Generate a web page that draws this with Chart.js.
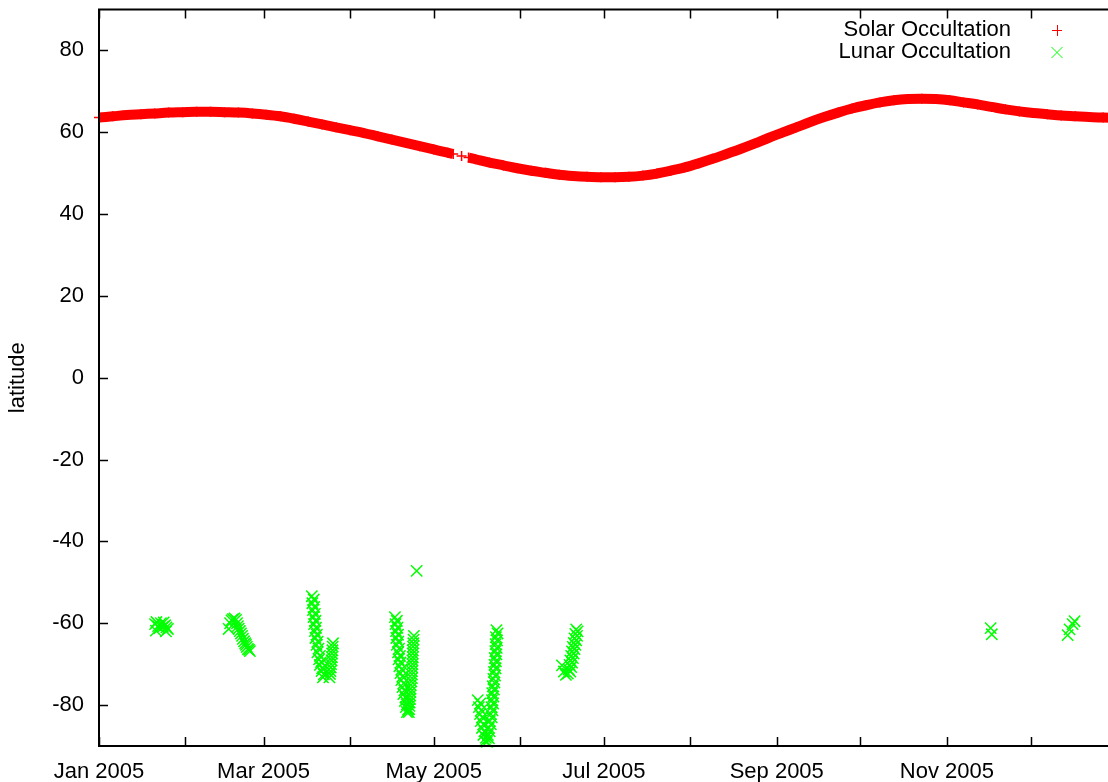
<!DOCTYPE html>
<html>
<head>
<meta charset="utf-8">
<script src="https://cdn.jsdelivr.net/npm/chart.js@4.4.1/dist/chart.umd.min.js"></script>
<style>
  html, body { margin: 0; padding: 0; background: #fff; overflow: hidden; }
  canvas { display: block; }
</style>
</head>
<body>
<canvas id="occChart" width="1130" height="782"></canvas>
<script>
// day of year 2005 where each month starts, and the labels gnuplot printed
var monthDays = [0, 31, 59, 90, 120, 151, 181, 212, 243, 273, 304, 334];
var monthLabels = ["Jan 2005", "", "Mar 2005", "", "May 2005", "", "Jul 2005", "", "Sep 2005", "", "Nov 2005", ""];
var yTicks = [-80, -60, -40, -20, 0, 20, 40, 60, 80];

// solar occultation latitude, null = data gap
var solarDay = [0, 5, 10, 15, 20, 25, 30, 35, 40, 45, 50, 55, 60, 65, 70, 75, 80, 85, 90, 95,
  100, 105, 110, 115, 120, 125, 127, 128.5, 130, 131.5, 132.5, 135, 140, 145, 150, 155, 160, 165, 170, 175,
  180, 185, 190, 195, 200, 205, 210, 215, 220, 225, 230, 235, 240, 245, 250, 255, 260, 265, 270, 275,
  280, 285, 290, 295, 300, 305, 310, 315, 320, 325, 330, 335, 340, 345, 350, 355, 360, 365];
var solarLat = [63.6, 63.9, 64.2, 64.4, 64.6, 64.8, 64.9, 65.0, 65.0, 64.9, 64.8, 64.6, 64.3, 63.9, 63.3, 62.6, 61.9, 61.2, 60.5, 59.8,
  59.0, 58.2, 57.4, 56.6, 55.8, 55.0, 54.7, null, 54.2, null, 53.8, 53.4, 52.6, 51.9, 51.2, 50.6, 50.1, 49.6, 49.3, 49.1,
  49.0, 49.0, 49.1, 49.4, 49.9, 50.6, 51.4, 52.4, 53.5, 54.7, 55.9, 57.2, 58.6, 59.9, 61.2, 62.5, 63.7, 64.8, 65.8, 66.6,
  67.3, 67.8, 68.1, 68.2, 68.1, 67.8, 67.3, 66.8, 66.2, 65.6, 65.1, 64.7, 64.4, 64.1, 63.9, 63.7, 63.6, 63.5];

// lunar occultation points, one row per pass
var lunarDay = [
  20.1, 21.2, 22.2, 22.9, 23.7, 24.7, 20.4, 24.0, 20.6, 21.7, 23.2, 24.2,
  47.0, 48.0, 49.1, 49.8, 50.5, 51.3, 52.0, 52.7, 53.4, 54.1, 46.5, 47.5, 48.6, 49.5, 50.1, 50.9, 51.6, 52.4, 53.0, 53.8,
  76.3, 76.5, 76.7, 76.9, 77.1, 77.4, 77.6, 78.0, 78.3, 78.9, 79.2, 79.8, 80.3,
  77.0, 77.2, 77.4, 77.6, 77.8, 78.1, 78.4, 78.7, 79.2, 79.6, 80.0, 80.6,
  83.9, 83.7, 83.5, 83.2, 83.0, 82.6, 83.8, 83.6, 83.4, 83.1, 82.8,
  113.9,
  106.1, 106.3, 106.5, 106.6, 106.8, 107.2, 107.4, 107.7, 108.1, 108.4, 108.8, 109.1, 109.7, 110.0, 110.4,
  106.8, 107.0, 107.2, 107.3, 107.6, 107.9, 108.1, 108.5, 108.8, 109.2, 109.5, 109.9, 110.4, 110.8,
  112.9, 112.7, 112.5, 112.5, 112.4, 112.2, 112.2, 111.8, 111.7, 111.5, 111.3, 111.1,
  112.8, 112.6, 112.5, 112.4, 112.3, 112.2, 112.0, 111.7, 111.6, 111.4, 111.2,
  135.8, 136.2, 136.6, 136.9, 137.3, 137.8, 138.4, 136.7, 137.0, 137.4, 137.8, 138.2, 138.7,
  139.1, 139.4, 139.8, 140.1, 140.5, 140.7, 140.9, 141.0, 141.2, 141.4, 141.6, 141.8, 141.9, 142.1, 142.2, 142.3, 142.5,
  139.8, 140.1, 140.5, 140.8, 141.1, 141.3, 141.4, 141.6, 141.8, 142.0, 142.2, 142.3, 142.5, 142.6, 142.7, 142.9,
  166.0, 166.7, 167.4,
  168.1, 168.4, 168.7, 169.0, 169.3, 169.6, 169.9, 170.2, 170.5, 170.8, 171.1,
  169.0, 169.3, 169.6, 169.9, 170.2, 170.5, 170.8, 171.1, 171.4, 171.6,
  319.7, 320.1,
  347.3, 348.0, 349.1, 349.8];
var lunarLat = [
  -60.2, -60.7, -60.0, -60.9, -60.5, -61.4, -61.8, -62.0, -59.7, -61.2, -59.8, -61.0,
  -60.0, -59.0, -59.2, -60.7, -61.9, -63.1, -64.4, -65.3, -66.3, -66.8, -61.4, -59.3, -58.8, -60.0, -61.3, -62.5, -63.8, -64.9, -65.8, -66.5,
  -53.4, -55.1, -56.8, -58.5, -60.2, -61.9, -63.6, -65.3, -67.1, -68.8, -70.2, -71.7, -73.2,
  -54.2, -56.0, -57.7, -59.4, -61.1, -62.8, -64.5, -66.2, -68.0, -69.5, -71.0, -72.5,
  -64.9, -66.6, -68.3, -70.0, -71.7, -73.2, -65.7, -67.4, -69.1, -70.8, -72.4,
  -47.2,
  -58.5, -60.2, -61.9, -63.6, -65.3, -67.1, -68.8, -70.5, -72.2, -73.9, -75.6, -77.3, -79.0, -80.5, -81.7,
  -59.4, -61.1, -62.8, -64.5, -66.2, -68.0, -69.6, -71.3, -73.0, -74.7, -76.4, -78.2, -79.8, -81.1,
  -63.1, -64.9, -66.6, -68.3, -70.0, -71.7, -73.4, -75.1, -76.8, -78.5, -80.2, -81.7,
  -64.0, -65.7, -67.4, -69.1, -70.8, -72.5, -74.2, -76.0, -77.7, -79.4, -81.0,
  -78.8, -80.5, -82.2, -83.9, -85.6, -87.3, -88.8, -79.6, -81.3, -83.0, -84.7, -86.4, -88.0,
  -89.0, -87.3, -85.6, -83.9, -82.2, -80.5, -78.8, -77.1, -75.4, -73.6, -71.9, -70.2, -68.5, -66.8, -65.1, -63.4, -61.7,
  -88.1, -86.4, -84.7, -83.0, -81.3, -79.6, -77.9, -76.2, -74.5, -72.8, -71.0, -69.3, -67.6, -66.0, -64.2, -62.5,
  -70.3, -71.8, -72.6,
  -72.3, -71.3, -70.2, -69.1, -68.0, -66.9, -65.8, -64.8, -63.7, -62.6, -61.5,
  -71.8, -70.7, -69.6, -68.5, -67.4, -66.3, -65.3, -64.2, -63.1, -62.0,
  -61.2, -62.7,
  -62.9, -61.5, -60.2, -59.5];

var fontFamily = "'Liberation Sans', Arial, sans-serif";

var solarPoints = solarDay.map(function (d, i) { return { x: d, y: solarLat[i] }; });
var lunarPoints = lunarDay.map(function (d, i) { return { x: d, y: lunarLat[i] }; });

// gnuplot style frame: border, inward ticks on all sides, legend at top right
var gnuplotFrame = {
  id: "gnuplotFrame",
  afterDatasetsDraw: function (chart) {
    var ctx = chart.ctx;
    var a = chart.chartArea;
    var xs = chart.scales.x;
    var ys = chart.scales.y;
    var tick = 9;
    ctx.save();
    ctx.strokeStyle = "#000";
    ctx.lineWidth = 1.5;
    ctx.beginPath();
    monthDays.forEach(function (d) {
      var px = Math.round(xs.getPixelForValue(d)) + 0.5;
      ctx.moveTo(px, a.bottom); ctx.lineTo(px, a.bottom - tick);
      ctx.moveTo(px, a.top); ctx.lineTo(px, a.top + tick);
    });
    yTicks.forEach(function (v) {
      var py = Math.round(ys.getPixelForValue(v)) + 0.5;
      ctx.moveTo(a.left, py); ctx.lineTo(a.left + tick, py);
      ctx.moveTo(a.right, py); ctx.lineTo(a.right - tick, py);
    });
    ctx.stroke();
    ctx.lineWidth = 2;
    ctx.strokeRect(a.left, a.top, a.right - a.left, a.bottom - a.top);

    // legend
    var ds = chart.data.datasets;
    var textX = a.right - 106;
    var markX = a.right - 60;
    ctx.font = "22px " + fontFamily;
    ctx.fillStyle = "#000";
    ctx.textAlign = "right";
    ctx.textBaseline = "middle";
    ctx.fillText(ds[0].label, textX, 30);
    ctx.fillText(ds[1].label, textX, 52);
    ctx.lineWidth = 1;
    ctx.strokeStyle = ds[0].borderColor;
    ctx.beginPath();
    ctx.moveTo(markX - 5, 30.5); ctx.lineTo(markX + 5, 30.5);
    ctx.moveTo(markX + 0.5, 25); ctx.lineTo(markX + 0.5, 36);
    ctx.stroke();
    ctx.strokeStyle = ds[1].borderColor;
    ctx.beginPath();
    ctx.moveTo(markX - 5.5, 47); ctx.lineTo(markX + 5.5, 58);
    ctx.moveTo(markX - 5.5, 58); ctx.lineTo(markX + 5.5, 47);
    ctx.stroke();
    ctx.restore();
  }
};

var ctxOcc = document.getElementById("occChart").getContext("2d");
var occChart = new Chart(ctxOcc, {
  type: "scatter",
  data: {
    datasets: [
      {
        label: "Solar Occultation",
        data: solarPoints,
        showLine: true,
        spanGaps: false,
        cubicInterpolationMode: "monotone",
        borderColor: "#ff0000",
        backgroundColor: "#ff0000",
        borderWidth: 10,
        pointStyle: "cross",
        pointRadius: 5,
        pointBorderWidth: 1.5,
        clip: false,
      },
      {
        label: "Lunar Occultation",
        data: lunarPoints,
        showLine: false,
        borderColor: "#00ff00",
        backgroundColor: "#00ff00",
        pointStyle: "crossRot",
        pointRadius: 8,
        pointBorderWidth: 1.5,
        clip: false,
      },
    ],
  },
  options: {
    responsive: false,
    animation: false,
    events: [],
    layout: { padding: { top: 9, right: 13, left: 0, bottom: 0 } },
    plugins: {
      legend: { display: false },
      tooltip: { enabled: false },
    },
    scales: {
      x: {
        type: "linear",
        min: 0,
        max: 365,
        grid: { display: false, drawTicks: false },
        border: { display: false },
        afterBuildTicks: function (scale) {
          scale.ticks = monthDays.map(function (d) { return { value: d }; });
        },
        afterFit: function (scale) {
          scale.height = 36;
          scale.paddingLeft = 0;
          scale.paddingRight = 0;
        },
        ticks: {
          autoSkip: false,
          maxRotation: 0,
          padding: 13,
          color: "#000",
          font: { family: fontFamily, size: 22 },
          callback: function (value, index) { return monthLabels[index]; },
        },
      },
      y: {
        type: "linear",
        min: -90,
        max: 90,
        grid: { display: false, drawTicks: false },
        border: { display: false },
        afterBuildTicks: function (scale) {
          scale.ticks = yTicks.map(function (v) { return { value: v }; });
        },
        afterFit: function (scale) {
          scale.width = 99;
          scale.paddingTop = 0;
          scale.paddingBottom = 0;
        },
        ticks: {
          padding: 15,
          color: "#000",
          font: { family: fontFamily, size: 22 },
        },
        title: {
          display: true,
          text: "latitude",
          color: "#000",
          padding: { top: 5, bottom: 0 },
          font: { family: fontFamily, size: 22 },
        },
      },
    },
  },
  plugins: [gnuplotFrame],
});
</script>
</body>
</html>
